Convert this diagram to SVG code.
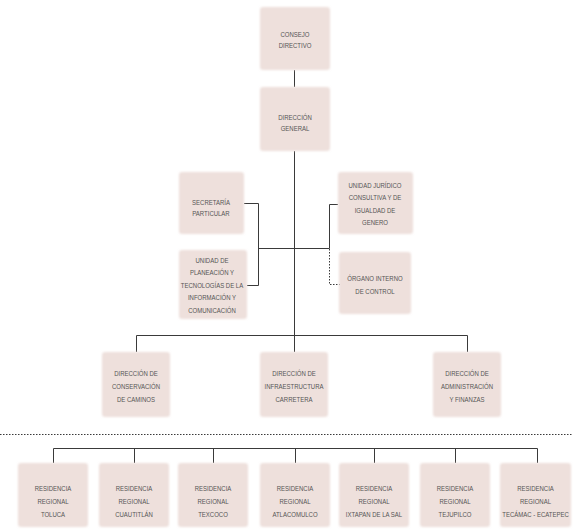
<svg xmlns="http://www.w3.org/2000/svg" width="573" height="529" viewBox="0 0 573 529">
<defs>
<filter id="soft" x="-10%" y="-10%" width="120%" height="120%"><feGaussianBlur stdDeviation="1.2"/></filter>
<style>
.box{fill:#eee0dc;filter:url(#soft)}
.t{font-family:"Liberation Sans",Arial,sans-serif;font-size:8px;fill:#555;text-anchor:middle}
.ln{stroke:#3a3a3a;stroke-width:1;fill:none}
.dot{stroke:#3a3a3a;stroke-width:1;fill:none;stroke-dasharray:1.5 1.5}
</style>
</defs>
<rect width="573" height="529" fill="#ffffff"/>
<g id="connectors">
<path class="ln" d="M294.5 70V87M294.5 151V335"/>
<path class="ln" d="M244 203.5H258.5V285.5H247M258.5 248.5H329.5V204.5H338"/>
<path class="dot" d="M329.5 249V284.5H340"/>
<path class="ln" d="M136.5 352V335.5H467.5V352M294.5 335.5V352"/>
<path class="dot" d="M0 434.5H573"/>
<path class="ln" d="M53.5 463V448.5H537.5V463M134.5 448.5V463M213.5 448.5V463M295.5 448.5V463M374.5 448.5V463M455.5 448.5V463"/>
</g>
<g id="consejo"><rect class="box" x="260" y="7" width="70" height="63" rx="3"/>
<text class="t" transform="translate(295 0) scale(0.75 1)"><tspan x="0" y="37">CONSEJO</tspan><tspan x="0" y="48.5">DIRECTIVO</tspan></text></g>
<g id="direccion-general"><rect class="box" x="260" y="87" width="70" height="64" rx="3"/>
<text class="t" transform="translate(295 0) scale(0.75 1)"><tspan x="0" y="120">DIRECCIÓN</tspan><tspan x="0" y="131.5">GENERAL</tspan></text></g>
<g id="secretaria"><rect class="box" x="179" y="172" width="65" height="62" rx="3"/>
<text class="t" transform="translate(211 0) scale(0.75 1)"><tspan x="0" y="205">SECRETARÍA</tspan><tspan x="0" y="216.5">PARTICULAR</tspan></text></g>
<g id="planeacion"><rect class="box" x="179" y="250" width="68" height="69" rx="3"/>
<text class="t" transform="translate(212 0) scale(0.75 1)"><tspan x="0" y="263">UNIDAD DE</tspan><tspan x="0" y="275.5">PLANEACIÓN Y</tspan><tspan x="0" y="288">TECNOLOGÍAS DE LA</tspan><tspan x="0" y="300.5">INFORMACIÓN Y</tspan><tspan x="0" y="313">COMUNICACIÓN</tspan></text></g>
<g id="juridico"><rect class="box" x="338" y="172" width="75" height="62" rx="3"/>
<text class="t" transform="translate(375 0) scale(0.75 1)"><tspan x="0" y="188">UNIDAD JURÍDICO</tspan><tspan x="0" y="200.5">CONSULTIVA Y DE</tspan><tspan x="0" y="213">IGUALDAD DE</tspan><tspan x="0" y="225.5">GENERO</tspan></text></g>
<g id="organo"><rect class="box" x="339" y="252" width="72" height="62" rx="3"/>
<text class="t" transform="translate(375 0) scale(0.75 1)"><tspan x="0" y="281">ÓRGANO INTERNO</tspan><tspan x="0" y="294">DE CONTROL</tspan></text></g>
<g id="conservacion"><rect class="box" x="102" y="352" width="68" height="65" rx="3"/>
<text class="t" transform="translate(136 0) scale(0.75 1)"><tspan x="0" y="376">DIRECCIÓN DE</tspan><tspan x="0" y="389">CONSERVACIÓN</tspan><tspan x="0" y="402">DE CAMINOS</tspan></text></g>
<g id="infraestructura"><rect class="box" x="260" y="352" width="68" height="65" rx="3"/>
<text class="t" transform="translate(294 0) scale(0.75 1)"><tspan x="0" y="376">DIRECCIÓN DE</tspan><tspan x="0" y="389">INFRAESTRUCTURA</tspan><tspan x="0" y="402">CARRETERA</tspan></text></g>
<g id="administracion"><rect class="box" x="433" y="352" width="68" height="65" rx="3"/>
<text class="t" transform="translate(467 0) scale(0.75 1)"><tspan x="0" y="376">DIRECCIÓN DE</tspan><tspan x="0" y="389">ADMINISTRACIÓN</tspan><tspan x="0" y="402">Y FINANZAS</tspan></text></g>
<g id="toluca"><rect class="box" x="18" y="463" width="70" height="64" rx="3"/>
<text class="t" transform="translate(53 0) scale(0.75 1)"><tspan x="0" y="491">RESIDENCIA</tspan><tspan x="0" y="504">REGIONAL</tspan><tspan x="0" y="517">TOLUCA</tspan></text></g>
<g id="cuautitlan"><rect class="box" x="99" y="463" width="70" height="64" rx="3"/>
<text class="t" transform="translate(134 0) scale(0.75 1)"><tspan x="0" y="491">RESIDENCIA</tspan><tspan x="0" y="504">REGIONAL</tspan><tspan x="0" y="517">CUAUTITLÁN</tspan></text></g>
<g id="texcoco"><rect class="box" x="178" y="463" width="70" height="64" rx="3"/>
<text class="t" transform="translate(213 0) scale(0.75 1)"><tspan x="0" y="491">RESIDENCIA</tspan><tspan x="0" y="504">REGIONAL</tspan><tspan x="0" y="517">TEXCOCO</tspan></text></g>
<g id="atlacomulco"><rect class="box" x="260" y="463" width="70" height="64" rx="3"/>
<text class="t" transform="translate(295 0) scale(0.75 1)"><tspan x="0" y="491">RESIDENCIA</tspan><tspan x="0" y="504">REGIONAL</tspan><tspan x="0" y="517">ATLACOMULCO</tspan></text></g>
<g id="ixtapan"><rect class="box" x="339" y="463" width="70" height="64" rx="3"/>
<text class="t" transform="translate(374 0) scale(0.75 1)"><tspan x="0" y="491">RESIDENCIA</tspan><tspan x="0" y="504">REGIONAL</tspan><tspan x="0" y="517">IXTAPAN DE LA SAL</tspan></text></g>
<g id="tejupilco"><rect class="box" x="420" y="463" width="70" height="64" rx="3"/>
<text class="t" transform="translate(455 0) scale(0.75 1)"><tspan x="0" y="491">RESIDENCIA</tspan><tspan x="0" y="504">REGIONAL</tspan><tspan x="0" y="517">TEJUPILCO</tspan></text></g>
<g id="tecamac"><rect class="box" x="500" y="463" width="71" height="64" rx="3"/>
<text class="t" transform="translate(535.5 0) scale(0.75 1)"><tspan x="0" y="491">RESIDENCIA</tspan><tspan x="0" y="504">REGIONAL</tspan><tspan x="0" y="517">TECÁMAC - ECATEPEC</tspan></text></g>
</svg>
